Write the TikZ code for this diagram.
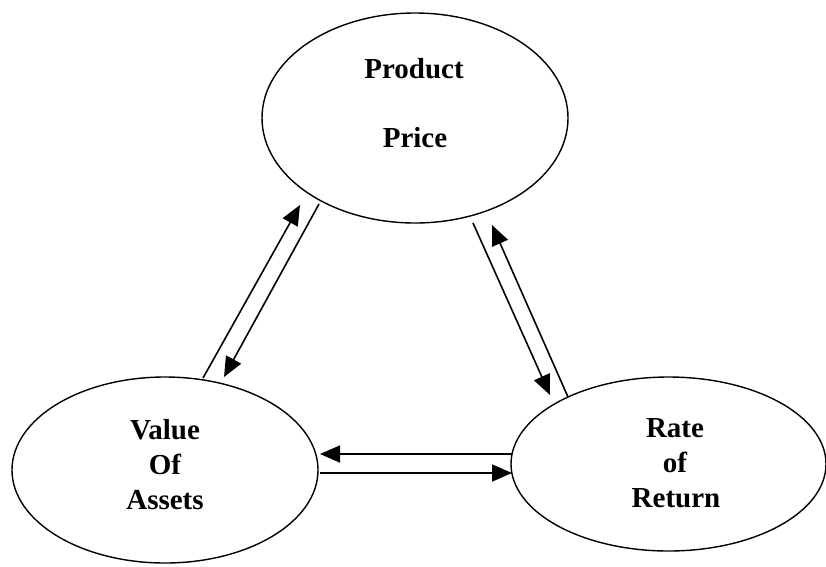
\documentclass[tikz,border=0pt]{standalone}
\usepackage{fontspec}
\setmainfont{Liberation Serif}
\usetikzlibrary{shapes.geometric,arrows.meta}
\begin{document}
\begin{tikzpicture}[x=1pt,y=-1pt,
  oval/.style={draw,ellipse,line width=1.4pt,inner sep=0pt},
  lbl/.style={anchor=base,font=\fontsize{29}{31}\selectfont\bfseries,inner sep=0pt},
  link/.style={line width=1.6pt,-{Triangle[length=20pt,width=17pt]}}]
\useasboundingbox (0,0) rectangle (826,566);
\fill[white] (0,0) rectangle (826,566);
% ellipses
\node[oval,minimum width=306pt,minimum height=210pt] (pp) at (415,118) {};
\node[oval,minimum width=306pt,minimum height=186pt] (va) at (165,470) {};
\node[oval,minimum width=315pt,minimum height=174pt] (rr) at (668.5,464) {};
% labels
\node[lbl] (t1) at (414,78) {Product};
\node[lbl] (t2) at (415,147) {Price};
\node[lbl] (t3) at (165,439) {Value};
\node[lbl] (t4) at (165,474) {Of};
\node[lbl] (t5) at (165,509) {Assets};
\node[lbl] (t6) at (675,437) {Rate};
\node[lbl] (t7) at (675,472) {of};
\node[lbl] (t8) at (676,507) {Return};
% arrow end points
\coordinate (l1s) at (203,378); \coordinate (l1e) at (300,205);
\coordinate (l2s) at (319,204); \coordinate (l2e) at (224,377);
\coordinate (r1s) at (473,223); \coordinate (r1e) at (550,395);
\coordinate (r2s) at (568,397); \coordinate (r2e) at (492,225);
\coordinate (b1s) at (512,454); \coordinate (b1e) at (320,454);
\coordinate (b2s) at (320,473); \coordinate (b2e) at (512,473);
% connectors
\draw[link] (l1s) -- (l1e);
\draw[link] (l2s) -- (l2e);
\draw[link] (r1s) -- (r1e);
\draw[link] (r2s) -- (r2e);
\draw[link] (b1s) -- (b1e);
\draw[link] (b2s) -- (b2e);
\end{tikzpicture}
\end{document}
